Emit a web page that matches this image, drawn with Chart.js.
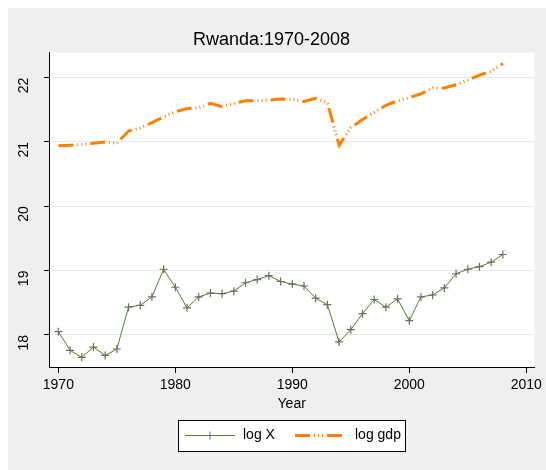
<!DOCTYPE html>
<html>
<head>
<meta charset="utf-8">
<script src="https://cdn.jsdelivr.net/npm/chart.js@4"></script>
<style>
  html, body { margin: 0; padding: 0; background: #fff; overflow: hidden; }
  #wrap { position: absolute; left: 8px; top: 8px; width: 538px; height: 462px; }
</style>
</head>
<body>
<div id="wrap"><canvas id="myChart" width="538" height="462"></canvas></div>
<script>
const years = [1970,1971,1972,1973,1974,1975,1976,1977,1978,1979,1980,1981,1982,1983,1984,1985,1986,1987,1988,1989,
  1990,1991,1992,1993,1994,1995,1996,1997,1998,1999,2000,2001,2002,2003,2004,2005,2006,2007,2008];
const logX = [18.05,17.76,17.65,17.81,17.68,17.78,18.43,18.46,18.59,19.02,18.74,18.42,18.59,18.65,18.64,18.68,18.81,18.86,18.92,18.83,
  18.79,18.76,18.57,18.47,17.89,18.08,18.33,18.55,18.43,18.56,18.22,18.59,18.62,18.73,18.95,19.02,19.06,19.13,19.25];
const logGdp = [20.94,20.95,20.96,20.98,21.00,20.98,21.17,21.22,21.30,21.39,21.47,21.52,21.53,21.60,21.55,21.60,21.64,21.64,21.65,21.67,
  21.66,21.63,21.68,21.61,20.95,21.22,21.35,21.46,21.57,21.64,21.69,21.75,21.84,21.84,21.89,21.96,22.04,22.10,22.22];
const xTicks = [1970,1980,1990,2000,2010];
const yTicks = [18,19,20,21,22];

const gdpDash = [15,4,1,3,1,3,1,4];

// grey page, white plot region, boxed legend at the bottom
const stataLook = {
  id: 'stataLook',
  beforeDraw(chart) {
    const ctx = chart.ctx;
    const a = chart.chartArea;
    ctx.save();
    ctx.fillStyle = '#efefef';
    ctx.fillRect(0, 0, chart.width, chart.height);
    ctx.fillStyle = '#ffffff';
    ctx.fillRect(a.left, a.top, a.right - a.left, a.bottom - a.top);
    ctx.restore();
  },
  afterDraw(chart) {
    const ctx = chart.ctx;
    const bx = 170, by = 412, bw = 227, bh = 31;
    const my = by + bh / 2;
    ctx.save();
    ctx.fillStyle = '#ffffff';
    ctx.fillRect(bx, by, bw, bh);
    ctx.strokeStyle = '#000';
    ctx.lineWidth = 1;
    ctx.strokeRect(bx + 0.5, by + 0.5, bw, bh);

    const ds = chart.data.datasets;
    // log X sample
    ctx.strokeStyle = ds[0].borderColor;
    ctx.lineWidth = 1;
    ctx.beginPath(); ctx.moveTo(177, my); ctx.lineTo(227, my); ctx.stroke();
    ctx.strokeStyle = ds[0].pointBorderColor;
    ctx.beginPath();
    ctx.moveTo(202, my - 4); ctx.lineTo(202, my + 4);
    ctx.moveTo(198, my); ctx.lineTo(206, my);
    ctx.stroke();
    // log gdp sample
    ctx.strokeStyle = ds[1].borderColor;
    ctx.lineWidth = 3;
    ctx.setLineDash(gdpDash);
    ctx.beginPath(); ctx.moveTo(287, my); ctx.lineTo(335, my); ctx.stroke();
    ctx.setLineDash([]);

    ctx.fillStyle = '#000';
    ctx.font = '14px "Liberation Sans", Arial, sans-serif';
    ctx.textBaseline = 'middle';
    ctx.fillText(ds[0].label, 235, my);
    ctx.fillText(ds[1].label, 347, my);
    ctx.restore();
  }
};

const data = {
  datasets: [{
    label: 'log X',
    data: years.map((y, i) => ({ x: y, y: logX[i] })),
    borderColor: '#4f7f2f',
    borderWidth: 1,
    pointStyle: 'cross',
    pointRadius: 4,
    pointBorderColor: '#6b6b6b',
    pointBorderWidth: 1.2,
    pointBackgroundColor: '#6b6b6b',
    tension: 0
  }, {
    label: 'log gdp',
    data: years.map((y, i) => ({ x: y, y: logGdp[i] })),
    borderColor: '#ff8000',
    borderWidth: 3,
    borderDash: gdpDash,
    pointRadius: 0,
    tension: 0
  }]
};

const config = {
  type: 'line',
  data: data,
  plugins: [stataLook],
  options: {
    responsive: false,
    animation: false,
    layout: { padding: { left: 0, right: 11, top: 0, bottom: 53 } },
    plugins: {
      legend: { display: false },
      tooltip: { enabled: false },
      title: {
        display: true,
        text: 'Rwanda:1970-2008',
        color: '#000',
        font: { family: '"Liberation Sans", Arial, sans-serif', size: 18, weight: 'normal' },
        padding: { top: 21, bottom: 2 }
      }
    },
    scales: {
      x: {
        type: 'linear',
        min: 1969.2,
        max: 2010.7,
        afterBuildTicks: s => { s.ticks = xTicks.map(v => ({ value: v })); },
        afterFit: s => { s.height = 50; },
        ticks: {
          color: '#000',
          padding: 4,
          maxRotation: 0,
          callback: v => String(v),
          font: { family: '"Liberation Sans", Arial, sans-serif', size: 14 }
        },
        grid: { drawOnChartArea: false, tickLength: 6, tickColor: '#000' },
        border: { color: '#000', width: 1 },
        title: {
          display: true,
          text: 'Year',
          color: '#000',
          font: { family: '"Liberation Sans", Arial, sans-serif', size: 14 },
          padding: { top: 0, bottom: 4 }
        }
      },
      y: {
        type: 'linear',
        min: 17.5,
        max: 22.39,
        afterBuildTicks: s => { s.ticks = yTicks.map(v => ({ value: v })); },
        afterFit: s => { s.width = 41; },
        ticks: {
          color: '#000',
          padding: 20,
          minRotation: 90,
          maxRotation: 90,
          callback: v => String(v),
          font: { family: '"Liberation Sans", Arial, sans-serif', size: 14 }
        },
        grid: { color: '#e8e8e8', tickLength: 5, tickColor: '#000' },
        border: { color: '#000', width: 1 }
      }
    }
  }
};

const myChart = new Chart(document.getElementById('myChart'), config);
</script>
</body>
</html>
